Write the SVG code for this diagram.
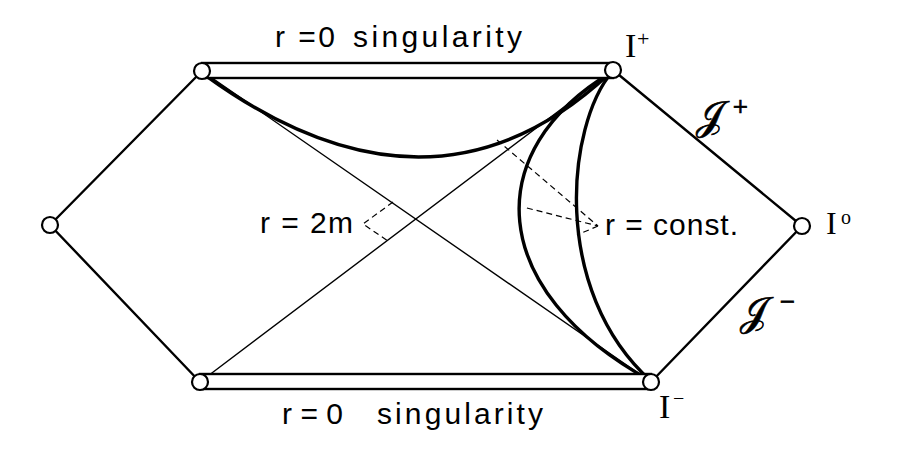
<svg xmlns="http://www.w3.org/2000/svg" width="912" height="460" viewBox="0 0 912 460">
<style>
.ln{fill:none;stroke:#000;stroke-linecap:round}
.outer{stroke-width:2.4}
.thin{stroke-width:1.4}
.thick{stroke-width:3.4}
.bar{fill:#fff;stroke:#000;stroke-width:2.4}
.dash{fill:none;stroke:#000;stroke-width:1.2;stroke-dasharray:6 4}
.pt{fill:#fff;stroke:#000;stroke-width:2.2}
.lab{font-family:"Liberation Sans","DejaVu Sans",sans-serif;font-size:30px;fill:#000}
.ser{font-family:"Liberation Serif","DejaVu Serif",serif;fill:#000}
.scr{font-family:"DejaVu Serif","DejaVu Sans","Noto Sans",serif;fill:#000;stroke:#000;stroke-width:0.7}
</style>
<rect width="912" height="460" fill="#fff"/>
<g id="connectors">
  <path class="ln outer" d="M50,225 L202,71"/>
  <path class="ln outer" d="M50,225 L200,382"/>
  <path class="ln outer" d="M613,70 L802,226"/>
  <path class="ln outer" d="M802,226 L651,382"/>
  <path class="ln thin" d="M202,71 L651,382"/>
  <path class="ln thin" d="M200,382 L613,70"/>
  <path class="ln thick" d="M205,75 Q432,240 610,73"/>
  <path class="ln thick" d="M612,72 C480,150 485,290 651,381"/>
  <path class="ln thick" d="M612,72 C567,125 550,290 651,381"/>
  <path class="dash" d="M393,202 L363,224 L388,241"/>
  <path class="dash" d="M497,140 L598,226 L523,207 M598,226 L577,235"/>
</g>
<g id="singularity-top">
  <rect class="bar" x="202" y="63" width="411" height="15"/>
  <text class="lab" x="275" y="47" textLength="60" lengthAdjust="spacing">r =0</text>
  <text class="lab" x="353" y="47" textLength="169" lengthAdjust="spacing">singularity</text>
</g>
<g id="singularity-bottom">
  <rect class="bar" x="200" y="374" width="451" height="15"/>
  <text class="lab" x="282" y="424" textLength="61" lengthAdjust="spacing">r = 0</text>
  <text class="lab" x="377" y="424" textLength="166" lengthAdjust="spacing">singularity</text>
</g>
<g id="i-left"><circle class="pt" cx="50" cy="225" r="8"/></g>
<g id="i-plus">
  <circle class="pt" cx="613" cy="70" r="8"/>
  <text class="ser" x="625" y="57" font-size="34">I</text>
  <text class="ser" x="637" y="46" font-size="22">+</text>
</g>
<g id="i-minus">
  <circle class="pt" cx="651" cy="382" r="8"/>
  <text class="ser" x="659" y="418" font-size="34">I</text>
  <text class="ser" x="673" y="405" font-size="20">−</text>
</g>
<g id="i-tl"><circle class="pt" cx="202" cy="71" r="8"/></g>
<g id="i-bl"><circle class="pt" cx="200" cy="382" r="8"/></g>
<g id="i-zero">
  <circle class="pt" cx="802" cy="226" r="8"/>
  <text class="ser" x="826" y="234" font-size="32">I</text>
  <text class="ser" x="841" y="224" font-size="20">o</text>
</g>
<g id="scri-plus">
  <text class="scr" x="696" y="129" font-size="40">𝒥</text>
  <text class="scr" x="732" y="113" font-size="20">+</text>
</g>
<g id="scri-minus">
  <text class="scr" x="740" y="325" font-size="40">𝒥</text>
  <text class="scr" x="779" y="308" font-size="20">−</text>
</g>
<g id="label-2m">
  <text class="lab" x="260" y="233" textLength="93" lengthAdjust="spacing">r = 2m</text>
</g>
<g id="label-const">
  <text class="lab" x="605" y="235" textLength="133" lengthAdjust="spacing">r = const.</text>
</g>
</svg>
